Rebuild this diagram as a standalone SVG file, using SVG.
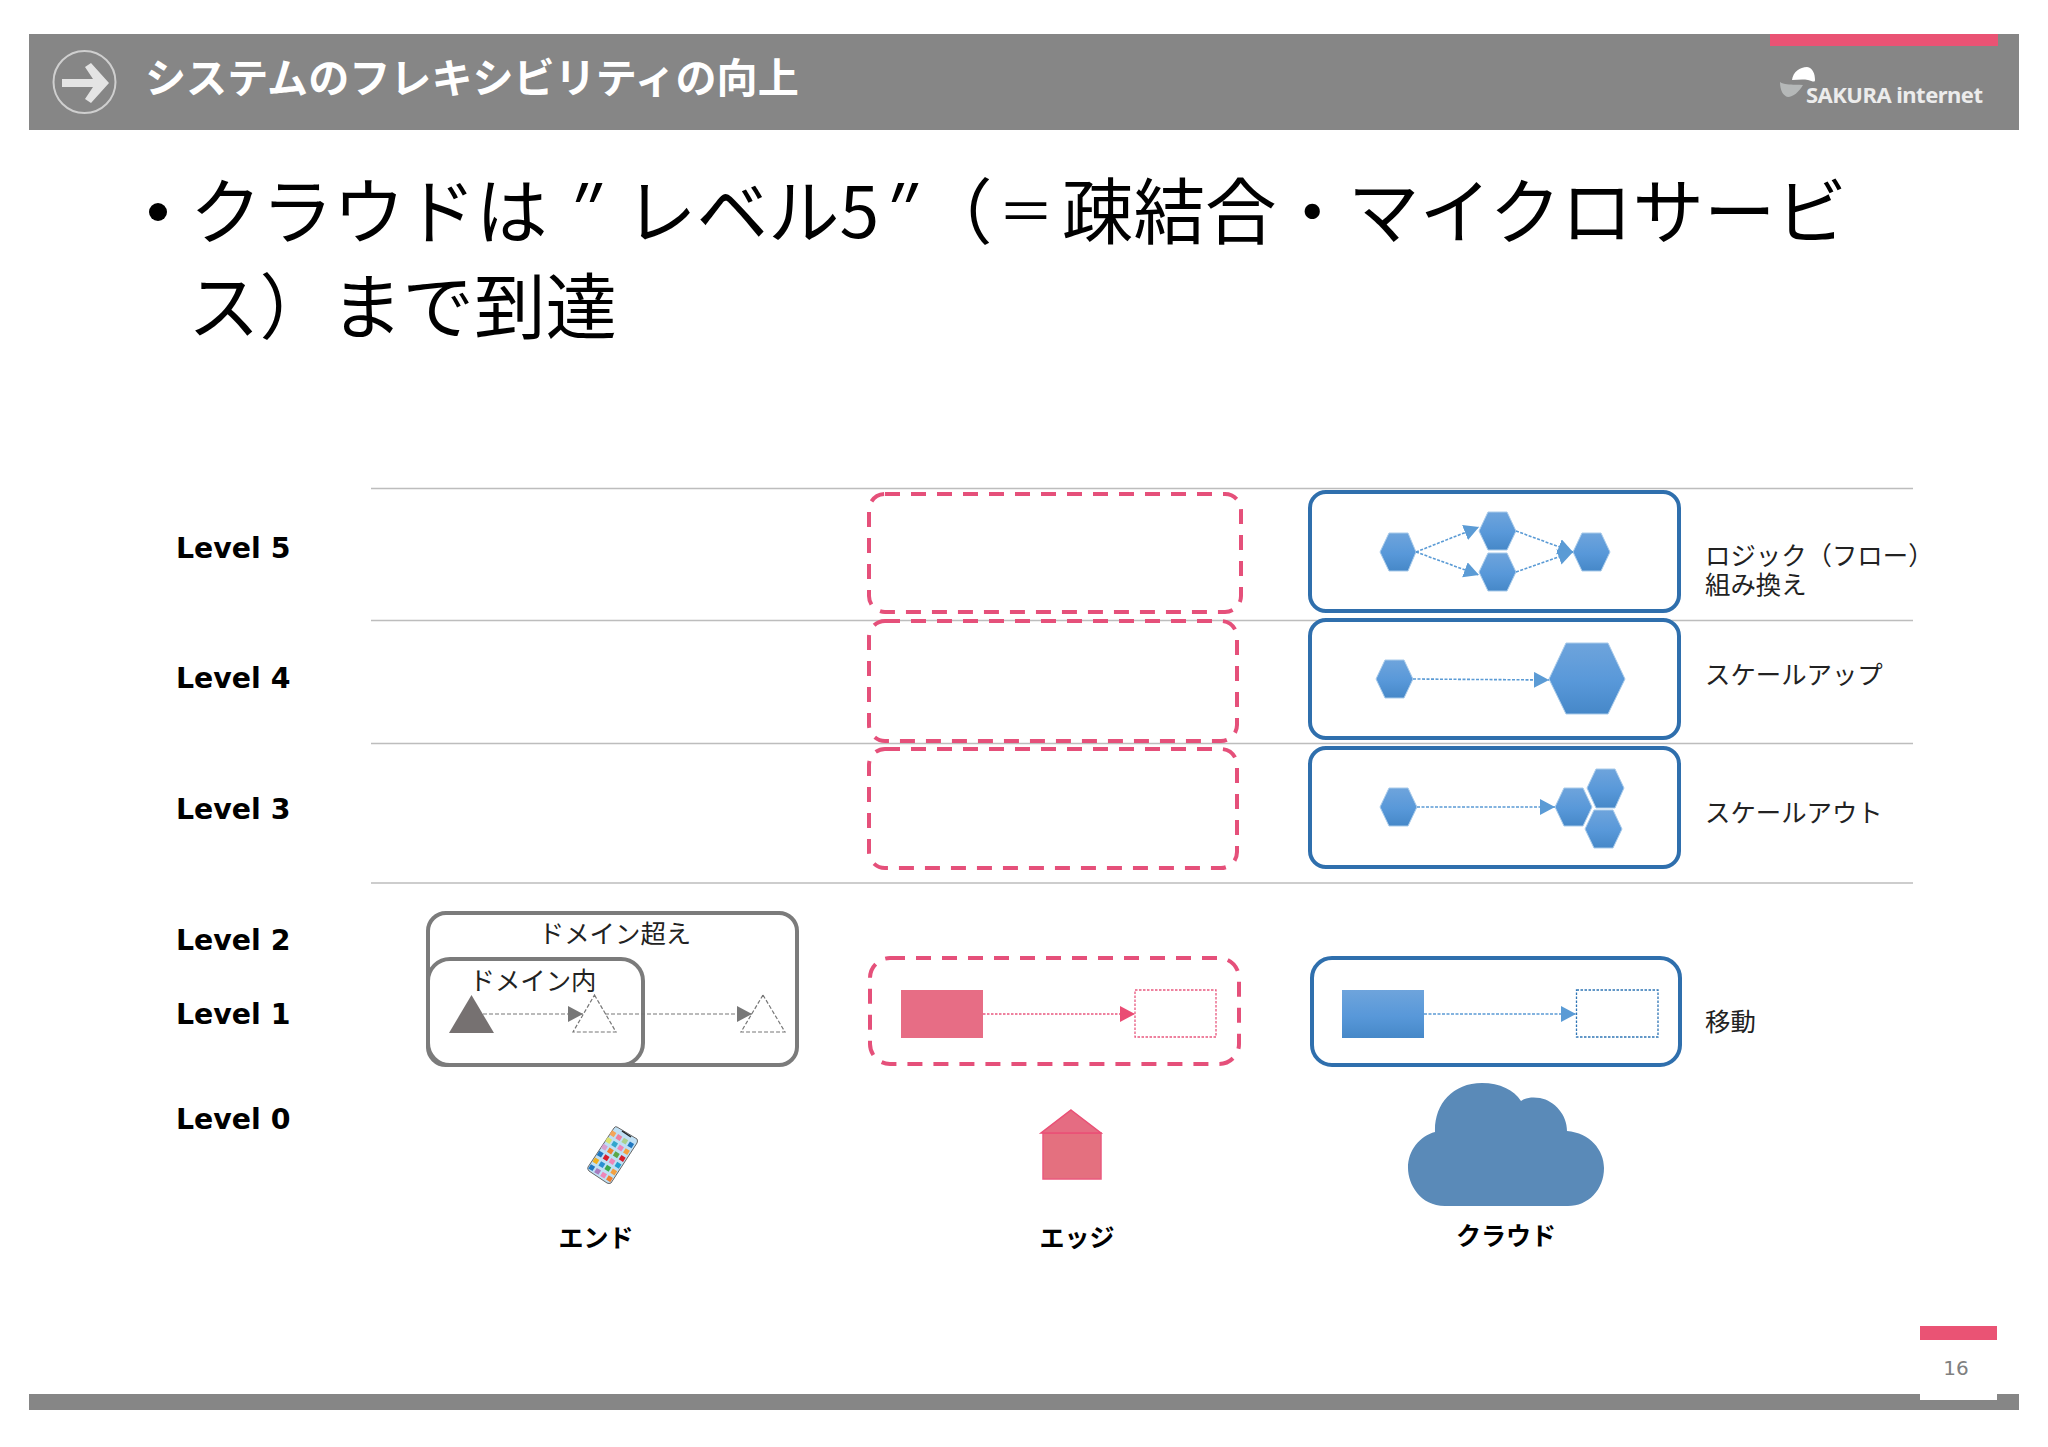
<svg xmlns="http://www.w3.org/2000/svg" width="2048" height="1447" viewBox="0 0 2048 1447">
<style>
text{font-family:"Noto Sans CJK JP","Liberation Sans",sans-serif;fill:#111}
.lv{font-family:"DejaVu Sans",sans-serif;font-weight:700;font-size:28.4px;fill:#000}
.b{font-weight:700;font-size:25px;fill:#000}
.n{font-size:25.4px;fill:#222;font-weight:400}
.big{font-size:71.5px;fill:#000;font-weight:400}
.sep{stroke:#bdbdbd;stroke-width:1.5;fill:none}
.pk{fill:#fff;stroke:#e5507a;stroke-width:4;stroke-dasharray:15 11;fill-opacity:0}
.bl{fill:#fff;stroke:#2f6fad;stroke-width:4}
.gr{fill:none;stroke:#7b7b7b;stroke-width:4}
.hex{fill:url(#bg);stroke:#a9cbea;stroke-width:1}
.ca{fill:none;stroke:#5b9bd5;stroke-width:1.6;stroke-dasharray:3 1.5}
.cg{fill:none;stroke:#777;stroke-width:1.2;stroke-dasharray:4 2}
.cp{fill:none;stroke:#e9587f;stroke-width:1.5;stroke-dasharray:2.5 1.5}
</style>
<defs>
<linearGradient id="bg" x1="0" y1="0" x2="0" y2="1"><stop offset="0" stop-color="#6ea4dc"/><stop offset=".55" stop-color="#5898d9"/><stop offset="1" stop-color="#4688c8"/></linearGradient>
<marker id="ab" markerUnits="userSpaceOnUse" markerWidth="16" markerHeight="18" refX="15" refY="8" orient="auto"><path d="M0 0L15 8L0 16Z" fill="#5b9bd5"/></marker>
<marker id="ag" markerUnits="userSpaceOnUse" markerWidth="16" markerHeight="18" refX="15" refY="8" orient="auto"><path d="M0 0L15 8L0 16Z" fill="#777"/></marker>
<marker id="ap" markerUnits="userSpaceOnUse" markerWidth="16" markerHeight="18" refX="15" refY="8" orient="auto"><path d="M0 0L15 8L0 16Z" fill="#ea4c74"/></marker>
</defs>
<rect width="2048" height="1447" fill="#fff"/>

<g id="header">
<rect x="29" y="34" width="1990" height="96" fill="#868686"/>
<rect x="1770" y="34" width="228" height="12" fill="#ea5374"/>
<circle cx="84.5" cy="82" r="31" fill="none" stroke="#cfcfcf" stroke-width="2"/>
<path d="M62 79H93L85 67L91 63L109 83L91 103L85 99L93 87H62Z" fill="#e4e4e4"/>
<text x="145" y="93" font-size="41.1" font-weight="700" style="fill:#fff">システムのフレキシビリティの向上</text>
<path d="M1792 80C1793 72 1800 67 1807 67C1813 68 1815 74 1815 80C1815 83 1812 81 1808 80C1802 79 1797 80 1792 80Z" fill="#fff"/>
<path d="M1780 82C1786 86 1796 84 1803 85C1799 92 1793 97 1788 97C1783 96 1780 90 1780 82Z" fill="#b5b8b8"/>
<text x="1806" y="103" font-size="22" font-weight="700" style="font-family:'Noto Sans','DejaVu Sans',sans-serif;fill:#ececec" textLength="177">SAKURA internet</text>
</g>

<g id="bullet">
<circle cx="158" cy="212" r="9" fill="#000"/>
<text class="big" x="190" y="238">クラウドは<tspan x="560" font-style="italic">″</tspan><tspan x="625">レベル5</tspan><tspan x="876" font-style="italic">″</tspan><tspan x="921">（</tspan><tspan x="998" y="232" font-size="56">＝</tspan><tspan x="1062" y="238">疎結合・マイクロサービ</tspan></text>
<text class="big" x="188" y="333">ス）まで到達</text>
</g>

<g id="separators">
<path class="sep" d="M371 488.500H1913M371 620.500H1913M371 743.500H1913M371 883H1913"/>
</g>

<g id="levels">
<text class="lv" x="176" y="558">Level 5</text>
<text class="lv" x="176" y="688">Level 4</text>
<text class="lv" x="176" y="819">Level 3</text>
<text class="lv" x="176" y="950">Level 2</text>
<text class="lv" x="176" y="1024">Level 1</text>
<text class="lv" x="176" y="1129">Level 0</text>
</g>

<g id="edge-level5"><rect class="pk" x="869" y="494" width="372" height="118" rx="16"/></g>
<g id="edge-level4"><rect class="pk" x="869" y="621" width="368" height="120" rx="16"/></g>
<g id="edge-level3"><rect class="pk" x="869" y="749" width="368" height="119" rx="16"/></g>

<g id="cloud-level5">
<rect class="bl" x="1310" y="492" width="369" height="119" rx="16"/>
<path class="hex" d="M1380 552L1389 533H1408L1416 552L1408 571H1389Z"/>
<path class="hex" d="M1479 531L1488 512H1507L1516 531L1507 550H1488Z"/>
<path class="hex" d="M1479 572L1488 553H1507L1516 572L1507 591H1488Z"/>
<path class="hex" d="M1573 552L1582 533H1601L1610 552L1601 571H1582Z"/>
<text class="n" x="1705" y="565">ロジック（フロー）<tspan x="1705" y="594">組み換え</tspan></text>
</g>
<g id="cloud-level4">
<rect class="bl" x="1310" y="620" width="369" height="118" rx="16"/>
<path class="hex" d="M1376 679L1385 660H1404L1413 679L1404 698H1385Z"/>
<path class="hex" d="M1549 679L1566 643H1608L1625 679L1608 714H1566Z"/>
<text class="n" x="1705" y="684">スケールアップ</text>
</g>
<g id="cloud-level3">
<rect class="bl" x="1310" y="748" width="369" height="119" rx="16"/>
<path class="hex" d="M1380 807L1389 788H1408L1417 807L1408 826H1389Z"/>
<path class="hex" d="M1555 807L1564 788H1583L1592 807L1583 826H1564Z"/>
<path class="hex" d="M1587 788L1596 769H1615L1624 788L1615 808H1596Z"/>
<path class="hex" d="M1585 829L1594 810H1613L1622 829L1613 848H1594Z"/>
<text class="n" x="1705" y="822">スケールアウト</text>
</g>

<g id="end-domain">
<rect class="gr" x="428" y="913" width="369" height="152" rx="18"/>
<text class="n" x="615" y="943" text-anchor="middle">ドメイン超え</text>
<rect class="gr" x="428" y="959" width="215" height="106" rx="22"/>
<text class="n" x="533" y="990" text-anchor="middle">ドメイン内</text>
<path d="M471.500 995L494 1033H449Z" fill="#767171"/>
<path class="cg" d="M594.500 995L616 1032H573Z"/>
<path class="cg" d="M763 995L785 1032H741Z"/>
</g>

<g id="edge-level1">
<rect class="pk" x="870" y="958" width="369" height="106" rx="20"/>
<rect x="901" y="990" width="82" height="48" fill="#e76d85"/>
<rect x="1135" y="990" width="81" height="47" fill="none" stroke="#e9587f" stroke-width="1.300" stroke-dasharray="2.500 1.500"/>
</g>
<g id="cloud-level1">
<rect class="bl" x="1312" y="958" width="368" height="107" rx="20"/>
<rect x="1342" y="990" width="82" height="48" fill="url(#bg)"/>
<rect x="1576.500" y="990" width="81.500" height="47" fill="none" stroke="#2f75b5" stroke-width="1.300" stroke-dasharray="2.500 1.500"/>
<text class="n" x="1705" y="1031">移動</text>
</g>

<g id="connectors">
<path class="ca" d="M1416 552L1479 527" marker-end="url(#ab)"/>
<path class="ca" d="M1416 552L1479 575" marker-end="url(#ab)"/>
<path class="ca" d="M1516 531L1573 552" marker-end="url(#ab)"/>
<path class="ca" d="M1516 572L1573 552" marker-end="url(#ab)"/>
<path class="ca" d="M1413 679L1549 680" marker-end="url(#ab)"/>
<path class="ca" d="M1417 807L1555 807" marker-end="url(#ab)"/>
<path class="cg" d="M483 1014H583" marker-end="url(#ag)"/>
<path class="cg" d="M605 1014H752" marker-end="url(#ag)"/>
<path class="cp" d="M983 1014H1135" marker-end="url(#ap)"/>
<path class="ca" d="M1424 1014H1576" marker-end="url(#ab)"/>
</g>

<g id="end-device">
<path d="M617 1127L637 1139Q638 1141 637 1143L611 1183Q609 1184 607 1183L589 1171Q587 1169 588 1167L614 1128Q615 1126 617 1127Z" fill="#bfe0f5" stroke="#666" stroke-width="1"/>
<path d="M622 1131L631 1137" stroke="#222" stroke-width="1.500"/>
<g transform="translate(612 1155) rotate(32)">
<rect x="-13" y="-21" width="5" height="5" fill="#f4a65a"/><rect x="-6" y="-21" width="5" height="5" fill="#ee7fa0"/><rect x="1" y="-21" width="5" height="5" fill="#a9d18e"/><rect x="8" y="-21" width="5" height="5" fill="#1f77c0"/>
<rect x="-13" y="-13" width="5" height="5" fill="#dbe36f"/><rect x="-6" y="-13" width="5" height="5" fill="#33a6cc"/><rect x="1" y="-13" width="5" height="5" fill="#ee86b8"/><rect x="8" y="-13" width="5" height="5" fill="#f4a040"/>
<rect x="-13" y="-5" width="5" height="5" fill="#d79fd0"/><rect x="-6" y="-5" width="5" height="5" fill="#f08030"/><rect x="1" y="-5" width="5" height="5" fill="#59a84b"/><rect x="8" y="-5" width="5" height="5" fill="#d81e2c"/>
<rect x="-13" y="3" width="5" height="5" fill="#1f77c0"/><rect x="-6" y="3" width="5" height="5" fill="#d81e2c"/><rect x="1" y="3" width="5" height="5" fill="#ee86b8"/><rect x="8" y="3" width="5" height="5" fill="#1f9fd0"/>
<rect x="-13" y="11" width="5" height="5" fill="#f0b020"/><rect x="-6" y="11" width="5" height="5" fill="#2a8fd0"/><rect x="1" y="11" width="5" height="5" fill="#3da84b"/><rect x="8" y="11" width="5" height="5" fill="#f4a040"/>
<rect x="-13" y="19" width="5" height="5" fill="#1f77c0"/><rect x="-6" y="19" width="5" height="5" fill="#a77cc0"/><rect x="1" y="19" width="5" height="5" fill="#ee86b8"/><rect x="8" y="19" width="5" height="5" fill="#f08030"/>
</g>
<text class="b" x="596" y="1247" text-anchor="middle">エンド</text>
</g>

<g id="edge-device">
<rect x="1043" y="1133" width="58" height="46" fill="#e4707f" stroke="#ea5a7e" stroke-width="1.500"/>
<path d="M1071 1110L1101 1133H1041Z" fill="#e56c82" stroke="#ea4f75" stroke-width="1.500"/>
<text class="b" x="1077" y="1247" text-anchor="middle">エッジ</text>
</g>

<g id="cloud-device">
<path d="M1445 1206C1420 1206 1408 1184 1408 1168C1408 1150 1420 1136 1435 1132C1434 1105 1452 1083 1482 1083C1500 1083 1514 1090 1521 1101C1526 1097 1534 1097 1540 1098C1555 1101 1567 1115 1567 1131C1590 1133 1604 1150 1604 1168C1604 1190 1588 1206 1568 1206Z" fill="#5a8ab8"/>
<text class="b" x="1506" y="1245" text-anchor="middle">クラウド</text>
</g>

<g id="footer">
<rect x="29" y="1394" width="1990" height="16" fill="#868686"/>
<rect x="1920" y="1390" width="77" height="10" fill="#fff"/>
<rect x="1920" y="1326" width="77" height="14" fill="#ea5374"/>
<text x="1956" y="1375" text-anchor="middle" font-size="20" style="font-family:'DejaVu Sans',sans-serif;fill:#808080">16</text>
</g>
</svg>
